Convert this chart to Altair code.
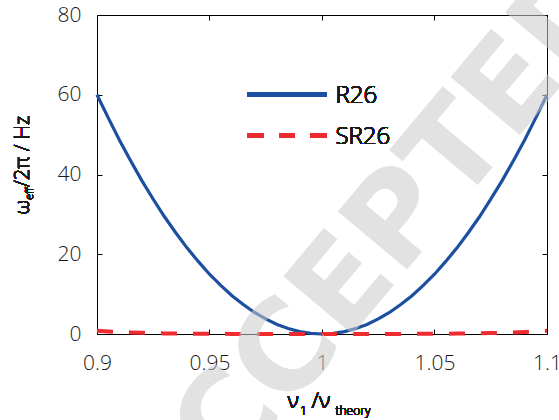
import altair as alt
import pandas as pd

# ---- data ----
x_vals = [0.900, 0.905, 0.910, 0.915, 0.920, 0.925, 0.930, 0.935, 0.940, 0.945, 0.950,
          0.955, 0.960, 0.965, 0.970, 0.975, 0.980, 0.985, 0.990, 0.995, 1.000,
          1.005, 1.010, 1.015, 1.020, 1.025, 1.030, 1.035, 1.040, 1.045, 1.050,
          1.055, 1.060, 1.065, 1.070, 1.075, 1.080, 1.085, 1.090, 1.095, 1.100]
r26 = [60.0, 54.2, 48.6, 43.4, 38.4, 33.8, 29.4, 25.4, 21.6, 18.2, 15.0,
       12.2, 9.6, 7.4, 5.4, 3.8, 2.4, 1.4, 0.6, 0.15, 0.0,
       0.15, 0.6, 1.4, 2.4, 3.8, 5.4, 7.4, 9.6, 12.2, 15.0,
       18.2, 21.6, 25.4, 29.4, 33.8, 38.4, 43.4, 48.6, 54.2, 60.0]
sr26 = [0.8, 0.65, 0.5, 0.4, 0.3, 0.22, 0.15, 0.12, 0.1, 0.07, 0.05,
        0.04, 0.03, 0.02, 0.01, 0.01, 0.0, 0.0, 0.0, 0.0, 0.0,
        0.0, 0.0, 0.0, 0.0, 0.01, 0.01, 0.02, 0.03, 0.04, 0.05,
        0.07, 0.1, 0.12, 0.15, 0.22, 0.3, 0.4, 0.5, 0.65, 0.8]
x_ticks = [0.9, 0.95, 1.0, 1.05, 1.1]
y_ticks = [0, 20, 40, 60, 80]
series = ["R26", "SR26"]

BLUE = "#1c4fa0"
RED = "#ee2b2f"
FONT = "Open Sans"
FW = 300
TXT = "#1a1a1a"
W, H = 450, 319

df_r = pd.DataFrame({"x": x_vals, "y": r26})
df_s = pd.DataFrame({"x": x_vals, "y": sr26})

xs = alt.Scale(domain=[0.9, 1.1], nice=False, zero=False)
ys = alt.Scale(domain=[0, 80], nice=False, zero=True)

# main layer with labelled axes (bottom/left), no ticks
blue = alt.Chart(df_r).mark_line(color=BLUE, strokeWidth=3.2).encode(
    x=alt.X("x:Q", scale=xs, axis=alt.Axis(
        orient="bottom", values=x_ticks, format="~g", title=None, grid=False,
        ticks=False, tickSize=0, labelFontSize=21, labelFont=FONT, labelFontWeight=FW,
        labelColor=TXT, labelPadding=18, domainColor="black", domainWidth=1,
        labelFlush=False)),
    y=alt.Y("y:Q", scale=ys, axis=alt.Axis(
        orient="left", values=y_ticks, title=None, grid=False,
        ticks=False, tickSize=0, labelFontSize=21, labelFont=FONT, labelFontWeight=FW,
        labelColor=TXT, labelPadding=16, domainColor="black", domainWidth=1,
        labelFlush=False)),
)

red = alt.Chart(df_s).mark_line(color=RED, strokeWidth=4, strokeDash=[16, 16]).encode(
    x=alt.X("x:Q", scale=xs, axis=None),
    y=alt.Y("y:Q", scale=ys, axis=None),
)

# inward ticks at bottom & left (axes moved across the plot)
ticks_bl = alt.Chart(df_r).mark_line(opacity=0).encode(
    x=alt.X("x:Q", scale=xs, axis=alt.Axis(
        orient="top", offset=-H, values=x_ticks, labels=False, domain=False,
        grid=False, title=None, tickSize=5, tickColor="black", tickWidth=1)),
    y=alt.Y("y:Q", scale=ys, axis=alt.Axis(
        orient="right", offset=-W, values=y_ticks, labels=False, domain=False,
        grid=False, title=None, tickSize=5, tickColor="black", tickWidth=1)),
)

# top & right frame with inward ticks
ticks_tr = alt.Chart(df_r).mark_line(opacity=0).encode(
    x=alt.X("x:Q", scale=xs, axis=alt.Axis(
        orient="bottom", offset=-H, values=x_ticks, labels=False, domain=True,
        domainColor="black", grid=False, title=None, tickSize=5, tickColor="black",
        tickWidth=1)),
    y=alt.Y("y:Q", scale=ys, axis=alt.Axis(
        orient="left", offset=-W, values=y_ticks, labels=False, domain=True,
        domainColor="black", grid=False, title=None, tickSize=5, tickColor="black",
        tickWidth=1)),
)

# legend (drawn manually)
leg_blue = alt.Chart(df_r).mark_rule(color=BLUE, strokeWidth=3.5).encode(
    x=alt.value(150.5), x2=alt.value(229.5), y=alt.value(79.5))
leg_red = alt.Chart(df_r).mark_rule(color=RED, strokeWidth=4, strokeDash=[16, 15.5]).encode(
    x=alt.value(150.5), x2=alt.value(229.5), y=alt.value(120.5))
leg_t1 = alt.Chart(df_r).mark_text(text=series[0], font=FONT, fontWeight=FW, fontSize=24,
                                   align="left", baseline="middle", color=TXT).encode(
    x=alt.value(238.5), y=alt.value(81))
leg_t2 = alt.Chart(df_r).mark_text(text=series[1], font=FONT, fontWeight=FW, fontSize=24,
                                   align="left", baseline="middle", color=TXT).encode(
    x=alt.value(238.5), y=alt.value(122))

def txt(s, x, y, size, angle=0):
    return alt.Chart(df_r).mark_text(text=s, font=FONT, fontWeight=FW, fontSize=size,
                                     align="left", baseline="alphabetic", angle=angle,
                                     color=TXT).encode(x=alt.value(x), y=alt.value(y))

# y-axis title: ω_eff/2π / Hz
yt1 = txt("ω", -68.5, 199.5, 20, 270)
yt2 = txt("eff", -64, 185, 11, 270)
yt3 = txt("/2π / Hz", -68.5, 172, 20, 270)

# x-axis title: ν1 /ν_theory
xt1 = txt("ν", 190.5, 392.5, 22)
xt2 = txt("1", 203, 399.5, 12)
xt3 = txt("/ν", 214.5, 392.5, 22)
xt4 = txt("theory", 238.5, 399.5, 12)

# watermark
wm = alt.Chart(pd.DataFrame({"x": [1.022], "y": [20.0]})).mark_text(
    text="ACCEPTED", font="DejaVu Sans", fontWeight="bold", fontSize=124,
    angle=310, align="center", baseline="middle", color="#cccccc",
    opacity=0.55).encode(
    x=alt.X("x:Q", scale=xs, axis=None), y=alt.Y("y:Q", scale=ys, axis=None))

chart = alt.layer(
    blue, ticks_bl, ticks_tr, red,
    leg_blue, leg_red, leg_t1, leg_t2,
    yt1, yt2, yt3, xt1, xt2, xt3, xt4, wm
).resolve_axis(x="independent", y="independent").properties(
    width=W, height=H,
    autosize=alt.AutoSizeParams(type="none"),
    padding={"left": 97, "top": 15, "right": 12, "bottom": 86},
).configure_view(stroke=None).configure(background="white")

chart.save("out.html", embed_options={"renderer": "svg", "actions": False})
